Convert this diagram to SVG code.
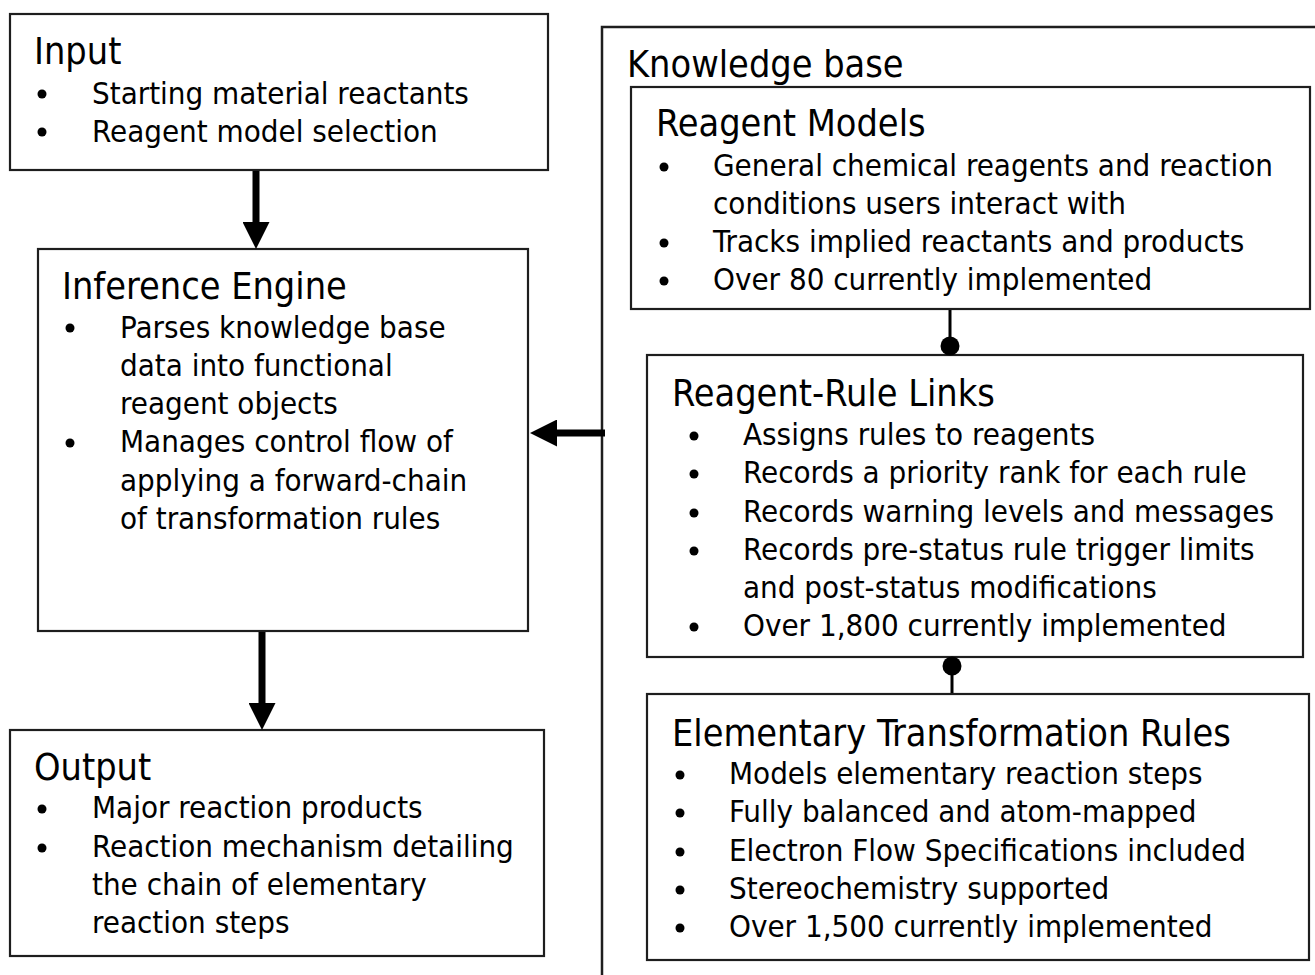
<svg xmlns="http://www.w3.org/2000/svg" width="1315" height="975" viewBox="0 0 1315 975">
  <defs>
    <style>
      .box { fill: #ffffff; stroke: #1e1e1e; stroke-width: 2.2; }
      .frame { fill: none; stroke: #1e1e1e; stroke-width: 2.5; }
      text { font-family: "DejaVu Sans Condensed", "DejaVu Sans", sans-serif; font-stretch: condensed; fill: #000000; }
      .title { font-size: 37.5px; }
      .item { font-size: 31px; }
      .bullet { fill: #000000; }
      .flow { fill: none; stroke: #000000; stroke-width: 7; }
      .link { fill: none; stroke: #000000; stroke-width: 3; }
    </style>
    <marker id="arrowhead" markerUnits="userSpaceOnUse" viewBox="0 0 27 27" refX="0" refY="13.5" markerWidth="27" markerHeight="27" orient="auto">
      <path d="M0,0 L27,13.5 L0,27 Z" fill="#000000"/>
    </marker>
    <marker id="dot" markerUnits="userSpaceOnUse" viewBox="0 0 20 20" refX="10" refY="10" markerWidth="20" markerHeight="20" orient="auto">
      <circle cx="10" cy="10" r="9.5" fill="#000000"/>
    </marker>
  </defs>

  <rect width="1315" height="975" fill="#ffffff"/>

  <!-- Knowledge base frame: open on the right and bottom -->
  <g id="knowledge-base">
    <path class="frame" d="M602,975 L602,27 L1315,27"/>
    <text class="title" x="627" y="77">Knowledge base</text>
  </g>

  <g id="input">
    <rect class="box" x="10" y="14" width="538" height="156"/>
    <text class="title" x="34" y="64">Input</text>
    <circle class="bullet" cx="42" cy="94" r="4.5"/>
    <text class="item" x="92" y="104">Starting material reactants</text>
    <circle class="bullet" cx="42" cy="132" r="4.5"/>
    <text class="item" x="92" y="142">Reagent model selection</text>
  </g>

  <g id="inference-engine">
    <rect class="box" x="38" y="249" width="490" height="382"/>
    <text class="title" x="62" y="299">Inference Engine</text>
    <circle class="bullet" cx="70" cy="328" r="4.5"/>
    <text class="item" x="120" y="338">Parses knowledge base</text>
    <text class="item" x="120" y="376">data into functional</text>
    <text class="item" x="120" y="414">reagent objects</text>
    <circle class="bullet" cx="70" cy="443" r="4.5"/>
    <text class="item" x="120" y="452">Manages control flow of</text>
    <text class="item" x="120" y="491">applying a forward-chain</text>
    <text class="item" x="120" y="529">of transformation rules</text>
  </g>

  <g id="output">
    <rect class="box" x="10" y="730" width="534" height="226"/>
    <text class="title" x="34" y="780">Output</text>
    <circle class="bullet" cx="42" cy="809" r="4.5"/>
    <text class="item" x="92" y="818">Major reaction products</text>
    <circle class="bullet" cx="42" cy="848" r="4.5"/>
    <text class="item" x="92" y="857">Reaction mechanism detailing</text>
    <text class="item" x="92" y="895">the chain of elementary</text>
    <text class="item" x="92" y="933">reaction steps</text>
  </g>

  <g id="reagent-models">
    <rect class="box" x="631" y="87" width="679" height="222"/>
    <text class="title" x="656" y="136">Reagent Models</text>
    <circle class="bullet" cx="664" cy="167" r="4.5"/>
    <text class="item" x="713" y="176">General chemical reagents and reaction</text>
    <text class="item" x="713" y="214">conditions users interact with</text>
    <circle class="bullet" cx="664" cy="243" r="4.5"/>
    <text class="item" x="713" y="252">Tracks implied reactants and products</text>
    <circle class="bullet" cx="664" cy="281" r="4.5"/>
    <text class="item" x="713" y="290">Over 80 currently implemented</text>
  </g>

  <g id="reagent-rule-links">
    <rect class="box" x="647" y="355" width="656" height="302"/>
    <text class="title" x="672" y="406">Reagent-Rule Links</text>
    <circle class="bullet" cx="694" cy="436" r="4.5"/>
    <text class="item" x="743" y="445">Assigns rules to reagents</text>
    <circle class="bullet" cx="694" cy="474" r="4.5"/>
    <text class="item" x="743" y="483">Records a priority rank for each rule</text>
    <circle class="bullet" cx="694" cy="513" r="4.5"/>
    <text class="item" x="743" y="522">Records warning levels and messages</text>
    <circle class="bullet" cx="694" cy="551" r="4.5"/>
    <text class="item" x="743" y="560">Records pre-status rule trigger limits</text>
    <text class="item" x="743" y="598">and post-status modifications</text>
    <circle class="bullet" cx="694" cy="627" r="4.5"/>
    <text class="item" x="743" y="636">Over 1,800 currently implemented</text>
  </g>

  <g id="elementary-transformation-rules">
    <rect class="box" x="647" y="694" width="662" height="266"/>
    <text class="title" x="672" y="746">Elementary Transformation Rules</text>
    <circle class="bullet" cx="680" cy="775" r="4.5"/>
    <text class="item" x="729" y="784">Models elementary reaction steps</text>
    <circle class="bullet" cx="680" cy="813" r="4.5"/>
    <text class="item" x="729" y="822">Fully balanced and atom-mapped</text>
    <circle class="bullet" cx="680" cy="852" r="4.5"/>
    <text class="item" x="729" y="861">Electron Flow Specifications included</text>
    <circle class="bullet" cx="680" cy="890" r="4.5"/>
    <text class="item" x="729" y="899">Stereochemistry supported</text>
    <circle class="bullet" cx="680" cy="928" r="4.5"/>
    <text class="item" x="729" y="937">Over 1,500 currently implemented</text>
  </g>

  <g id="connectors">
    <!-- Input to Inference Engine -->
    <line class="flow" x1="256" y1="171" x2="256" y2="222" marker-end="url(#arrowhead)"/>
    <!-- Inference Engine to Output -->
    <line class="flow" x1="262" y1="632" x2="262" y2="703" marker-end="url(#arrowhead)"/>
    <!-- Knowledge base to Inference Engine -->
    <line class="flow" x1="605" y1="433" x2="557" y2="433" stroke-width="9" marker-end="url(#arrowhead)"/>
    <!-- Reagent Models to Reagent-Rule Links -->
    <line class="link" x1="950" y1="310" x2="950" y2="346" marker-end="url(#dot)"/>
    <!-- Reagent-Rule Links to Elementary Transformation Rules -->
    <line class="link" x1="952" y1="693" x2="952" y2="666" marker-end="url(#dot)"/>
  </g>
</svg>
